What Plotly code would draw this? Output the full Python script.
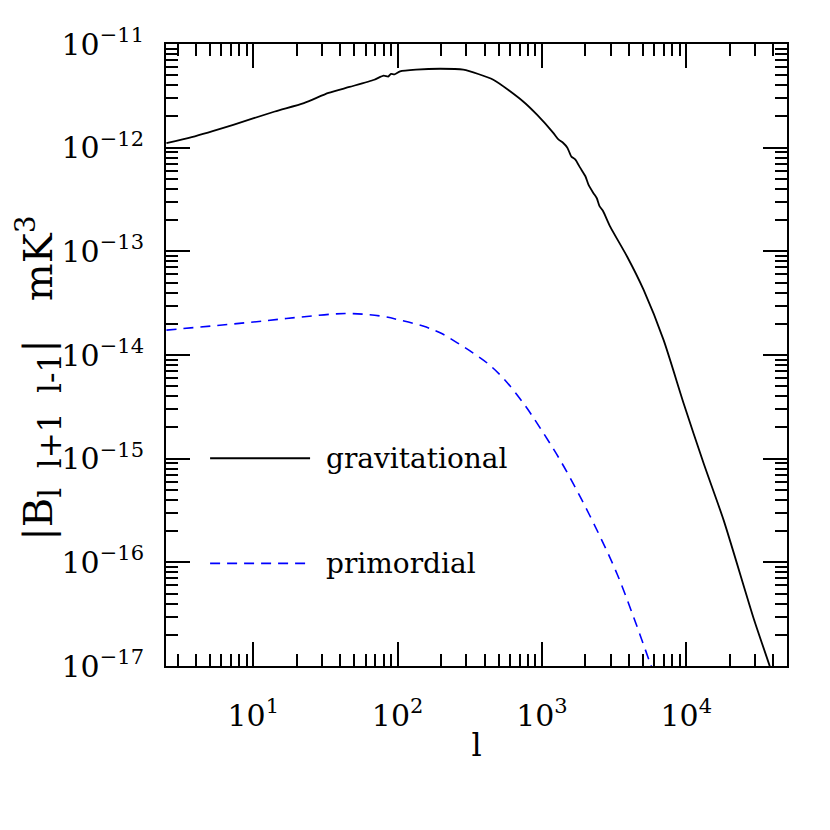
import plotly.graph_objects as go

# gravitational bispectrum |B_{l l+1 l-1}| (mK^3)
l_grav = [2.5, 3.74, 7.26, 14.1, 22.4, 33.2, 46.4, 68.9, 80, 86, 90, 95, 104, 134, 197, 285,
          460, 741, 927, 1198, 1300, 1405, 1500, 1600, 1700, 1843, 2000, 2100, 2269, 2400,
          2500, 2650, 2977, 3905, 5066, 6970, 9594, 13205, 18173, 29343, 37850, 41500]
B_grav = [1.106e-12, 1.265e-12, 1.663e-12, 2.233e-12, 2.69e-12, 3.37e-12, 3.85e-12, 4.52e-12,
          4.95e-12, 4.85e-12, 5.15e-12, 5.1e-12, 5.44e-12, 5.65e-12, 5.77e-12, 5.65e-12,
          4.52e-12, 2.79e-12, 2.07e-12, 1.39e-12, 1.2e-12, 1.11e-12, 1.0e-12, 8.2e-13, 7.7e-13,
          6.38e-13, 5.3e-13, 4.4e-13, 3.66e-13, 3.25e-13, 2.75e-13, 2.45e-13, 1.72e-13, 8.82e-14,
          4.24e-14, 1.39e-14, 3.41e-15, 8.97e-16, 2.54e-16, 2.86e-17, 1.0e-17, 6.7e-18]

# primordial bispectrum
l_prim = [2.5, 10, 21.1, 43.2, 75.6, 104, 150, 197, 259, 334, 418, 539, 746, 973, 1339,
          1843, 2537, 3311, 4317, 5636, 6210]
B_prim = [1.739e-14, 2.08e-14, 2.32e-14, 2.51e-14, 2.38e-14, 2.17e-14, 1.9e-14, 1.638e-14,
          1.31e-14, 1.043e-14, 8.35e-15, 5.98e-15, 3.41e-15, 1.97e-15, 9.65e-16, 4.27e-16,
          1.754e-16, 7.77e-17, 2.96e-17, 1.05e-17, 7.2e-18]

x_ticks = [10, 100, 1000, 10000]
x_ticktext = ["10<sup>1</sup>", "10<sup>2</sup>", "10<sup>3</sup>", "10<sup>4</sup>"]
y_ticks = [1e-17, 1e-16, 1e-15, 1e-14, 1e-13, 1e-12, 1e-11]
y_ticktext = ["10<sup>\u221217</sup>", "10<sup>\u221216</sup>", "10<sup>\u221215</sup>",
              "10<sup>\u221214</sup>", "10<sup>\u221213</sup>", "10<sup>\u221212</sup>",
              "10<sup>\u221211</sup>"]

x_minor = [m * 10 ** k for k in range(0, 5) for m in range(2, 10)]
y_minor = [m * 10.0 ** k for k in range(-17, -11) for m in range(2, 10)]

FONT = "DejaVu Serif"
NB = "\u00a0"
y_title = ("|B<sub><span style='font-size:31px'>l" + NB * 2 + "l+1" + NB * 2 + "l-1</span></sub>|"
           + NB * 3 + "mK<sup>3</sup>")

fig = go.Figure()
fig.add_trace(go.Scatter(x=l_grav, y=B_grav, mode="lines", name="gravitational",
                         line=dict(color="black", width=1.8, shape="spline", smoothing=0.6)))
fig.add_trace(go.Scatter(x=l_prim, y=B_prim, mode="lines", name="primordial",
                         line=dict(color="#0000ff", width=1.6, dash="10px,7px",
                                   shape="spline", smoothing=1.0)))

axis_common = dict(
    showline=True, linecolor="black", linewidth=2, mirror="ticks",
    ticks="inside", ticklen=24, tickwidth=1.5, tickcolor="black",
    showgrid=False, zeroline=False,
    tickfont=dict(family=FONT, size=30, color="black"),
)

fig.update_xaxes(type="log", range=[0.395, 4.698], tickmode="array",
                 tickvals=x_ticks, ticktext=x_ticktext, ticklabelstandoff=22,
                 minor=dict(ticks="inside", ticklen=12, tickwidth=1.5, tickcolor="black",
                            tickmode="array", tickvals=x_minor, showgrid=False),
                 title=dict(text="l", font=dict(family=FONT, size=32, color="black"), standoff=2),
                 **axis_common)
fig.update_yaxes(type="log", range=[-17, -11], tickmode="array",
                 tickvals=y_ticks, ticktext=y_ticktext, ticklabelstandoff=14,
                 minor=dict(ticks="inside", ticklen=12, tickwidth=1.5, tickcolor="black",
                            tickmode="array", tickvals=y_minor, showgrid=False),
                 **axis_common)

# y-axis title as a rotated annotation so it can sit further left
fig.add_annotation(xref="paper", yref="paper", x=-0.206, y=0.462, text=y_title,
                   textangle=-90, showarrow=False, xanchor="center", yanchor="middle",
                   font=dict(family=FONT, size=40, color="black"))

# hand-drawn style legend inside the frame
legend_items = [("gravitational", dict(color="black", width=1.8), 0.334),
                ("primordial", dict(color="#0000ff", width=1.6, dash="10px,7px"), 0.165)]
for label, style, ypos in legend_items:
    fig.add_shape(type="line", xref="paper", yref="paper", x0=0.071, x1=0.232,
                  y0=ypos, y1=ypos, line=style)
    fig.add_annotation(xref="paper", yref="paper", x=0.254, y=ypos, text=label,
                       showarrow=False, xanchor="left", yanchor="middle",
                       font=dict(family=FONT, size=28, color="black"))

fig.update_layout(
    width=830, height=830,
    margin=dict(l=158, r=51, t=36, b=172),
    plot_bgcolor="white", paper_bgcolor="white",
    showlegend=False,
)

fig.write_html("out.html")
